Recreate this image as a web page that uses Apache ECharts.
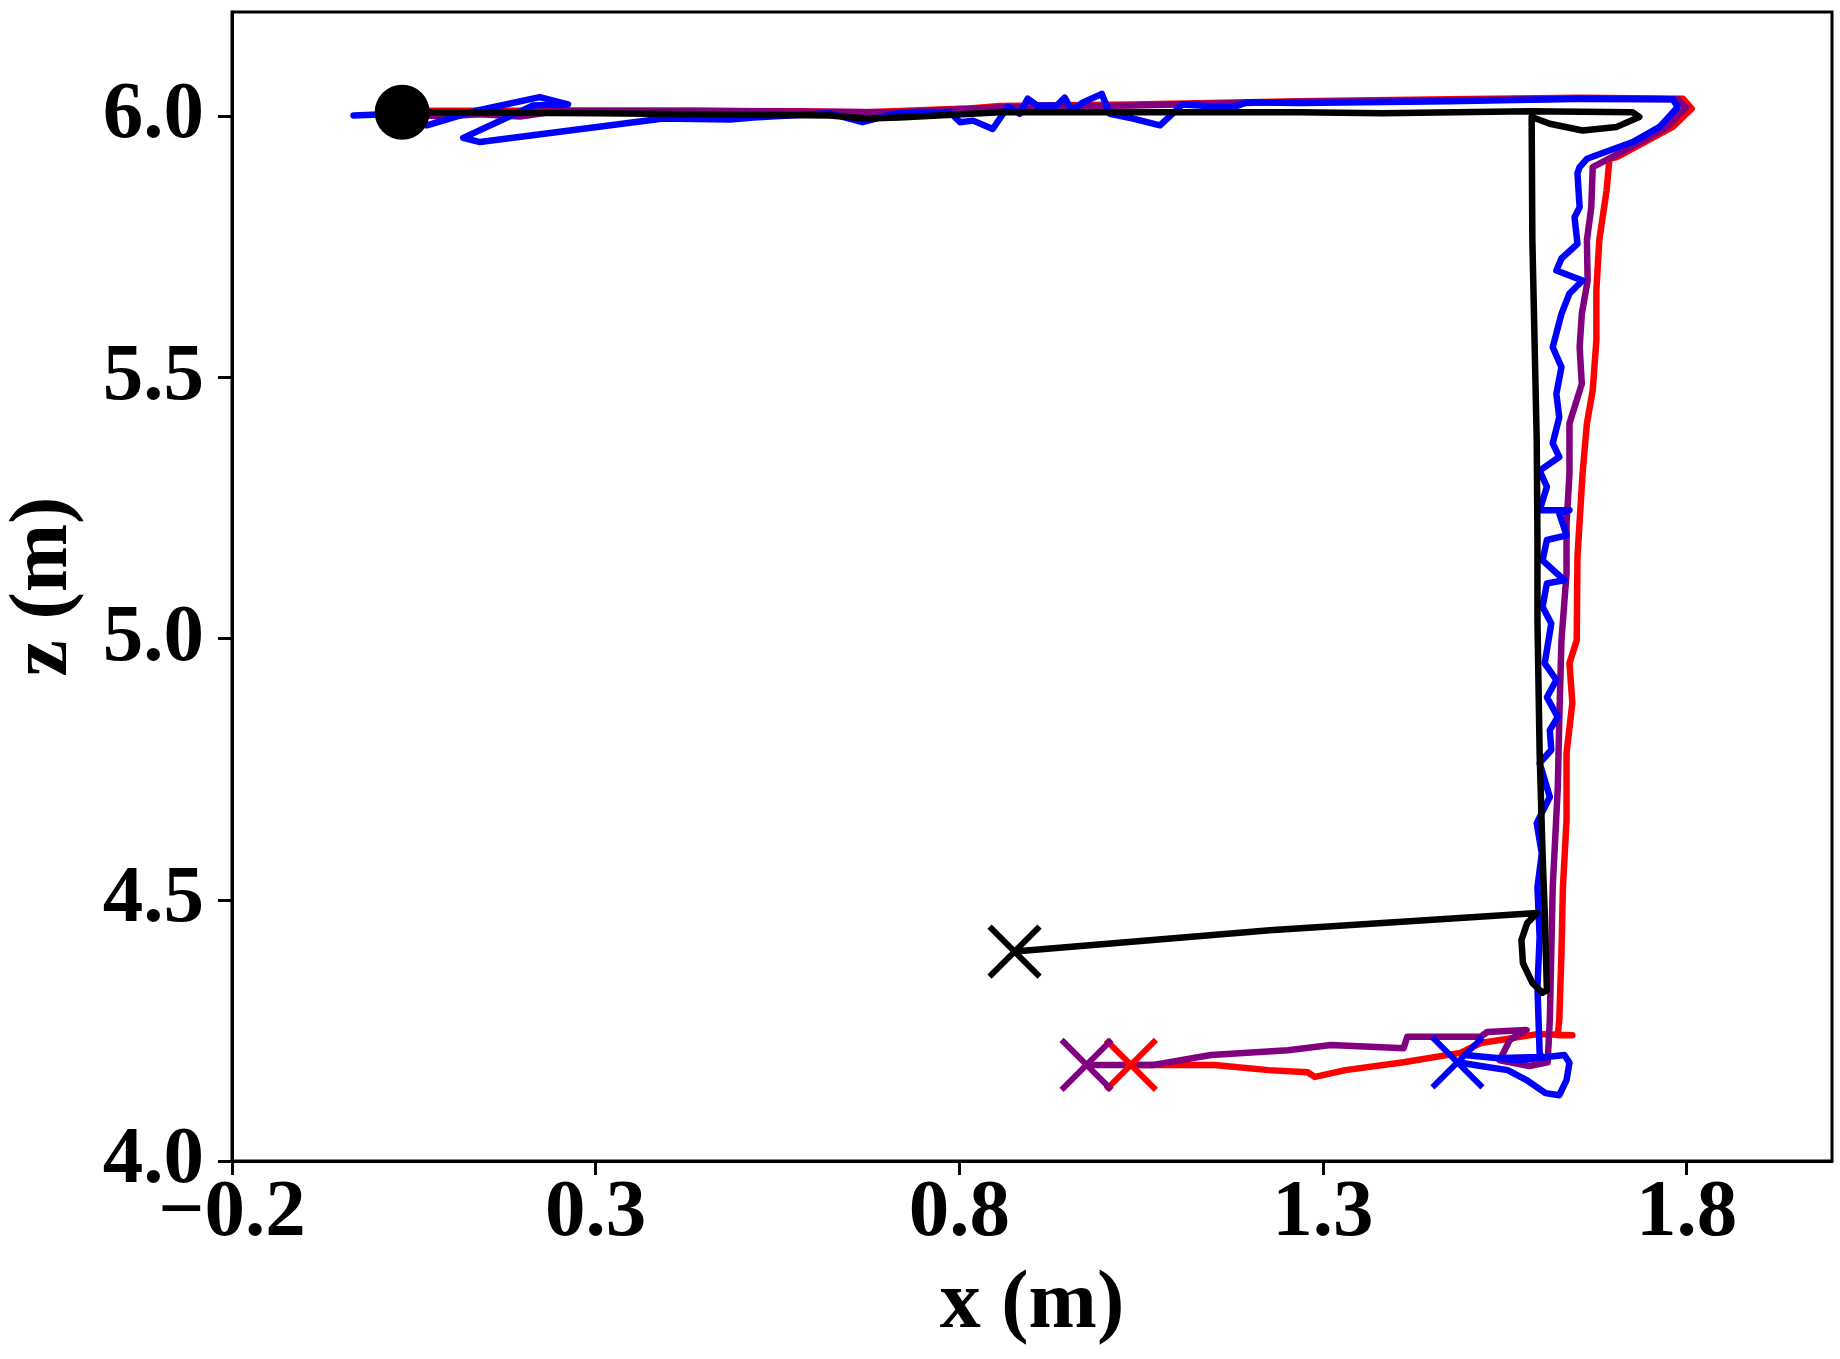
<!DOCTYPE html>
<html>
<head>
<meta charset="utf-8">
<script src="https://cdn.jsdelivr.net/npm/echarts@6/dist/echarts.min.js"></script>
<style>
html,body{margin:0;padding:0;background:#fff;}
#c{width:1840px;height:1359px;}
</style>
</head>
<body>
<div id="c"></div>
<script>
// ---- data (x in m, z in m) ----
const blackX = [0.034,0.306,0.622,0.673,0.718,0.856,1.268,1.382,1.584,1.726,1.735,1.704,1.657,1.612,1.587,1.588,1.591,1.594,1.595,1.595,1.598,1.602,1.605,1.608,1.602,1.588,1.575,1.573,1.581,1.595,1.227,0.876];
const blackZ = [6.008,6.006,6.002,5.996,5.998,6.008,6.008,6.006,6.010,6.008,5.999,5.980,5.973,5.986,5.999,5.763,5.571,5.380,5.189,5.035,4.781,4.589,4.475,4.327,4.322,4.341,4.379,4.423,4.456,4.475,4.442,4.401];

const blueX = [-0.033,0.026,0.068,0.136,0.223,0.262,0.214,0.118,0.141,0.393,0.485,0.517,0.622,0.667,0.718,0.787,0.801,0.819,0.846,0.867,0.883,0.894,0.907,0.934,0.945,0.955,0.970,0.996,1.007,1.039,1.076,1.107,1.176,1.195,1.268,1.474,1.657,1.781,1.788,1.763,1.726,1.663,1.653,1.650,1.653,1.646,1.650,1.628,1.621,1.657,1.639,1.628,1.616,1.628,1.621,1.625,1.616,1.625,1.598,1.608,1.598,1.639,1.625,1.635,1.608,1.602,1.632,1.608,1.602,1.614,1.605,1.621,1.608,1.623,1.612,1.614,1.598,1.612,1.594,1.601,1.595,1.598,1.595,1.598,1.601,1.543,1.495,1.570,1.632,1.639,1.635,1.625,1.606,1.580,1.554,1.517,1.485];
const blueZ = [6.002,6.005,5.983,6.011,6.037,6.023,6.021,5.959,5.951,5.996,5.994,5.998,6.006,5.989,6.008,6.008,5.989,5.992,5.976,6.019,6.005,6.034,6.021,6.021,6.036,6.011,6.027,6.043,6.005,5.996,5.983,6.023,6.017,6.027,6.026,6.029,6.034,6.033,6.018,5.980,5.951,5.919,5.903,5.891,5.826,5.807,5.756,5.728,5.705,5.686,5.661,5.622,5.558,5.520,5.469,5.424,5.374,5.348,5.322,5.291,5.246,5.246,5.240,5.198,5.189,5.150,5.112,5.106,5.061,5.029,4.953,4.921,4.888,4.850,4.825,4.787,4.762,4.697,4.647,4.589,4.524,4.429,4.333,4.207,4.199,4.197,4.203,4.193,4.203,4.188,4.155,4.126,4.130,4.155,4.174,4.182,4.189];

const redX = [0.031,0.072,0.306,0.581,0.673,0.810,0.856,1.039,1.268,1.474,1.653,1.795,1.807,1.781,1.704,1.694,1.690,1.680,1.676,1.676,1.671,1.663,1.657,1.650,1.649,1.639,1.643,1.635,1.635,1.630,1.628,1.625,1.623,1.643,1.595,1.517,1.489,1.411,1.331,1.289,1.279,1.225,1.151,1.067,1.036];
const redZ = [6.006,6.011,6.011,6.010,6.008,6.015,6.020,6.023,6.029,6.033,6.036,6.034,6.015,5.980,5.922,5.919,5.858,5.763,5.667,5.571,5.476,5.412,5.316,5.157,4.997,4.953,4.877,4.781,4.653,4.524,4.398,4.270,4.241,4.241,4.243,4.226,4.207,4.189,4.174,4.161,4.170,4.174,4.184,4.184,4.184];

const purpleX = [0.031,0.086,0.141,0.196,0.251,0.443,0.581,0.718,0.856,1.039,1.268,1.474,1.653,1.788,1.799,1.773,1.715,1.671,1.669,1.663,1.664,1.656,1.653,1.656,1.639,1.639,1.635,1.635,1.628,1.625,1.623,1.616,1.614,1.612,1.609,1.584,1.543,1.557,1.580,1.526,1.517,1.416,1.411,1.311,1.252,1.146,1.067,0.975];
const purpleZ = [6.006,6.000,6.004,6.000,6.011,6.011,6.009,6.008,6.017,6.021,6.028,6.031,6.034,6.033,6.017,5.979,5.935,5.903,5.826,5.763,5.686,5.622,5.558,5.488,5.412,5.316,5.220,5.125,4.997,4.844,4.716,4.525,4.398,4.270,4.189,4.182,4.193,4.232,4.251,4.247,4.238,4.238,4.216,4.222,4.212,4.203,4.184,4.184];

const startPoint = [0.034, 6.008];
const endNames = ['red','purple','blue','black'];
const endX = [1.036, 0.975, 1.485, 0.876];
const endZ = [4.184, 4.184, 4.189, 4.401];

const xTicks = [-0.2, 0.3, 0.8, 1.3, 1.8];
const zTicks = [4.0, 4.5, 5.0, 5.5, 6.0];

const colors = {red:'#ff0000', purple:'#800080', blue:'#0000ff', black:'#000000'};

function pairs(xs, zs){ return xs.map((x,i)=>[x, zs[i]]); }

const FONT = 'Liberation Serif';
const fmt = v => (v < 0 ? '\u2212' : '') + Math.abs(v).toFixed(1);

function lineSeries(name, xs, zs){
  return {
    type:'line', name, data: pairs(xs, zs),
    showSymbol:false, symbol:'none', smooth:false,
    lineStyle:{color:colors[name], width:6.5, join:'round', cap:'round'},
    animation:false, z:2
  };
}

const series = [
  lineSeries('red', redX, redZ),
  lineSeries('purple', purpleX, purpleZ),
  lineSeries('blue', blueX, blueZ),
  lineSeries('black', blackX, blackZ),
  {
    type:'scatter', data:[startPoint], symbol:'circle', symbolSize:55,
    itemStyle:{color:'#000', opacity:1}, animation:false, z:5
  }
];
endNames.forEach((n,i)=>{
  series.push({
    type:'scatter', data:[[endX[i], endZ[i]]],
    symbol:'path://M0,0L50,50M50,0L0,50', symbolSize:50,
    itemStyle:{color:'rgba(0,0,0,0)', borderColor:colors[n], borderWidth:6, opacity:1},
    animation:false, z:6
  });
});

const chart = echarts.init(document.getElementById('c'));
chart.setOption({
  backgroundColor:'#fff',
  animation:false,
  grid:{left:232, right:8, top:12, bottom:198, show:true, borderColor:'#000', borderWidth:3, backgroundColor:'#fff', outerBoundsMode:'none', containLabel:false},
  xAxis:{
    type:'value', min:-0.2, max:2.0,
    name:'x (m)', nameLocation:'middle', nameGap:104,
    nameTextStyle:{fontFamily:FONT, fontWeight:'bold', fontSize:82, color:'#000'},
    axisLine:{show:true, onZero:false, lineStyle:{color:'#000', width:3}},
    axisTick:{show:true, length:14, lineStyle:{color:'#000', width:3}, customValues:xTicks},
    axisLabel:{customValues:xTicks, formatter:fmt, margin:13, fontFamily:FONT, fontWeight:'bold', fontSize:81, color:'#000'},
    splitLine:{show:false}
  },
  yAxis:{
    type:'value', min:4.0, max:6.2,
    name:'z (m)', nameLocation:'middle', nameGap:146, nameRotate:90,
    nameTextStyle:{fontFamily:FONT, fontWeight:'bold', fontSize:82, color:'#000'},
    axisLine:{show:true, onZero:false, lineStyle:{color:'#000', width:3}},
    axisTick:{show:true, length:14, lineStyle:{color:'#000', width:3}, customValues:zTicks},
    axisLabel:{customValues:zTicks, formatter:fmt, margin:28, fontFamily:FONT, fontWeight:'bold', fontSize:81, color:'#000'},
    splitLine:{show:false}
  },
  series
});
</script>
</body>
</html>
